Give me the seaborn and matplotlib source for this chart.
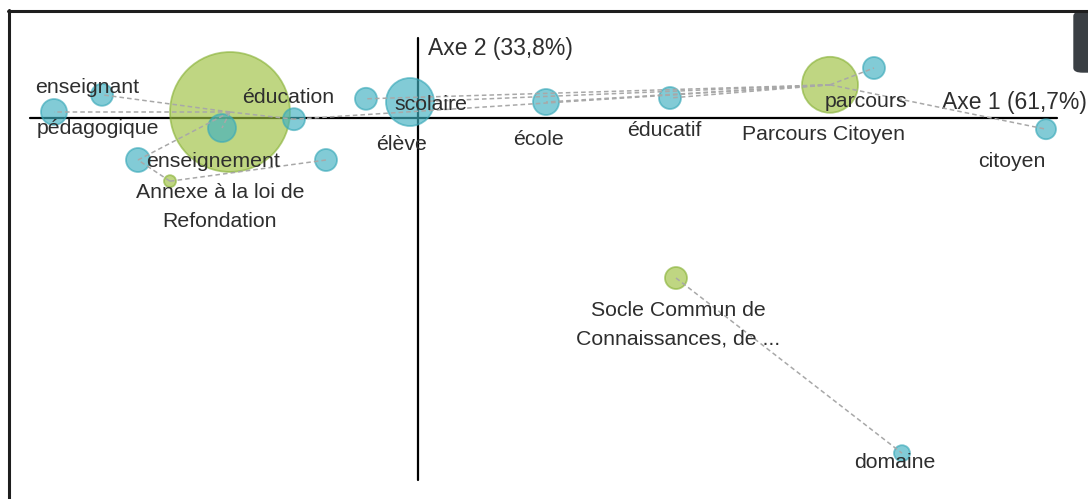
import numpy as np
import pandas as pd
import matplotlib
matplotlib.use("Agg")
import matplotlib.pyplot as plt
import seaborn as sns
from matplotlib.lines import Line2D
from matplotlib.patches import FancyBboxPatch

# words (blue bubbles): CA coordinates and weight
word_names = ["pédagogique", "enseignant", "enseignement", "éducation", None, None,
              "élève", "scolaire", "école", "éducatif", "parcours", "citoyen", "domaine"]
word_x = [-0.91, -0.79, -0.49, -0.31, -0.70, -0.23, -0.13, -0.02, 0.32, 0.63, 1.14, 1.57, 1.21]
word_y = [0.015, 0.058, -0.025, -0.003, -0.105, -0.105, 0.048, 0.040, 0.040, 0.050, 0.125, -0.028, -0.838]
word_w = [169, 121, 196, 121, 144, 121, 121, 576, 169, 121, 121, 100, 64]

# documents (green bubbles)
doc_names = [None, "Annexe à la loi de\nRefondation", "Parcours Citoyen",
             "Socle Commun de\nConnaissances, de ..."]
doc_x = [-0.47, -0.62, 1.03, 0.645]
doc_y = [0.015, -0.158, 0.083, -0.40]
doc_w = [3600, 36, 784, 121]

# links document -> words
links = {0: [0, 1, 2, 3, 4], 1: [4, 5], 2: [3, 6, 7, 8, 9, 10, 11], 3: [12]}

axis1_label = "Axe 1 (61,7%)"
axis2_label = "Axe 2 (33,8%)"

# label offsets in pixels (dx, dy)
word_off = [(44, -16), (-15, 7), (-9, -33), (-6, 22), None, None, (36, -46),
            (21, -2), (-7, -37), (-6, -32), (-8, -33), (-34, -32), (-7, -9)]
doc_off = [None, (50, -26), (-7, -50), (2, -47)]

words = pd.DataFrame({"x": word_x, "y": word_y, "w": word_w})
docs = pd.DataFrame({"x": doc_x, "y": doc_y, "w": doc_w})

sns.set_theme(style="white")
plt.rcParams["font.family"] = ["Liberation Sans", "DejaVu Sans"]

fig = plt.figure(figsize=(10.88, 4.99), dpi=100)
ax = fig.add_axes([0, 0, 1, 1])
ax.set_xlim(-1.045, 1.675)
ax.set_ylim(-0.9525, 0.295)
ax.axis("off")

k = 2.07  # px radius^2 -> points^2
wmax = 3600
sns.scatterplot(data=docs, x="x", y="y", size="w", sizes=(0, k * wmax), size_norm=(0, wmax),
                color="#9dc13f", alpha=0.65, edgecolor="#8ab33a", linewidth=1.3,
                legend=False, ax=ax, zorder=2)
sns.scatterplot(data=words, x="x", y="y", size="w", sizes=(0, k * wmax), size_norm=(0, wmax),
                color="#3fb0c0", alpha=0.65, edgecolor="#3aa9b9", linewidth=1.3,
                legend=False, ax=ax, zorder=3)

for d, ws in links.items():
    for w in ws:
        ax.plot([doc_x[d], word_x[w]], [doc_y[d], word_y[w]], color="#a8a8a8",
                lw=1.1, ls=(0, (3, 2)), zorder=4)

# axes
ax.plot([-0.97, 1.5975], [0, 0], color="black", lw=1.6, zorder=1)
ax.plot([0, 0], [0.2, -0.905], color="black", lw=1.6, zorder=1)
ax.text(0.025, 0.175, axis2_label, ha="left", va="center", fontsize=16.5, color="#2e2e2e")
ax.text(1.6725, 0.04, axis1_label, ha="right", va="center", fontsize=16.5, color="#2e2e2e")

fs = 15.3
for name, x, y, off in zip(word_names, word_x, word_y, word_off):
    if name:
        ax.annotate(name, (x, y), xytext=off, textcoords="offset pixels", ha="center",
                    va="center", fontsize=fs, color="#2e2e2e", zorder=5)
for name, x, y, off in zip(doc_names, doc_x, doc_y, doc_off):
    if name:
        ax.annotate(name, (x, y), xytext=off, textcoords="offset pixels", ha="center",
                    va="center", fontsize=fs, color="#2e2e2e", linespacing=1.65, zorder=5)

# frame of the widget
W, H = 1088, 499
fig.add_artist(Line2D([9 / W, 9 / W], [0, 1 - 10 / H], color="#1e1e1e", lw=2.2))
fig.add_artist(Line2D([8 / W, 1], [1 - 11 / H, 1 - 11 / H], color="#1e1e1e", lw=2.2))
fig.add_artist(FancyBboxPatch((1074 / W, 1 - 72 / H), 30 / W, 60 / H,
                              boxstyle="round,pad=0,rounding_size=0.008",
                              transform=fig.transFigure, color="#3a3f44"))

fig.savefig("out.png", dpi=100)
